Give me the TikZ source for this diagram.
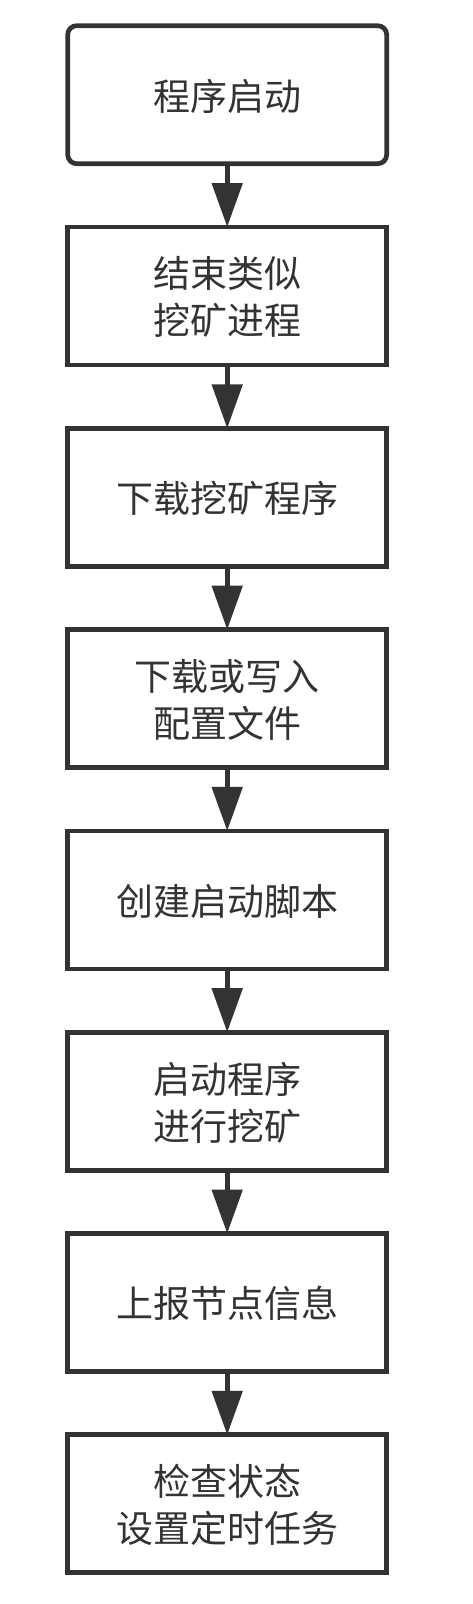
\documentclass[tikz,border=0pt]{standalone}
\usepackage{fontspec}
\setmainfont{Noto Sans CJK SC}
\usepackage{xcolor}
\usetikzlibrary{positioning,arrows.meta}
\definecolor{inkgray}{HTML}{333333}

% text of a step, set a little below the middle of its box
\newcommand{\steptext}[1]{\raisebox{-6pt}[\height][\depth]{\begin{tabular}{@{}c@{}}#1\end{tabular}}}

\tikzset{
  stepbox/.style={draw=inkgray, line width=4.7pt, fill=white, text=inkgray,
    minimum width=319pt, minimum height=138pt, outer sep=0pt, inner sep=0pt,
    align=center, font=\fontsize{37}{47}\selectfont},
  startbox/.style={stepbox, rounded corners=9pt},
  flow/.style={draw=inkgray, line width=5pt,
    -{Triangle[length=44pt,width=30pt]}}
}

\begin{document}
\begin{tikzpicture}[x=1pt, y=1pt, node distance=63.3pt]

\useasboundingbox (0,0) rectangle (472,-1604);

% the steps, top to bottom
\node[startbox] (start) at (227.2,-94.7) {\steptext{程序启动}};
\node[stepbox, below=of start] (killold) {\steptext{结束类似\\挖矿进程}};
\node[stepbox, below=of killold] (download) {\steptext{下载挖矿程序}};
\node[stepbox, below=of download] (config) {\steptext{下载或写入\\配置文件}};
\node[stepbox, below=of config] (script) {\steptext{创建启动脚本}};
\node[stepbox, below=of script] (mine) {\steptext{启动程序\\进行挖矿}};
\node[stepbox, below=of mine] (report) {\steptext{上报节点信息}};
\node[stepbox, below=of report] (check) {\steptext{检查状态\\设置定时任务}};

% arrows between the steps
\foreach \a/\b in {start/killold, killold/download, download/config,
  config/script, script/mine, mine/report, report/check}
  \draw[flow] (\a) -- (\b);

\end{tikzpicture}
\end{document}
